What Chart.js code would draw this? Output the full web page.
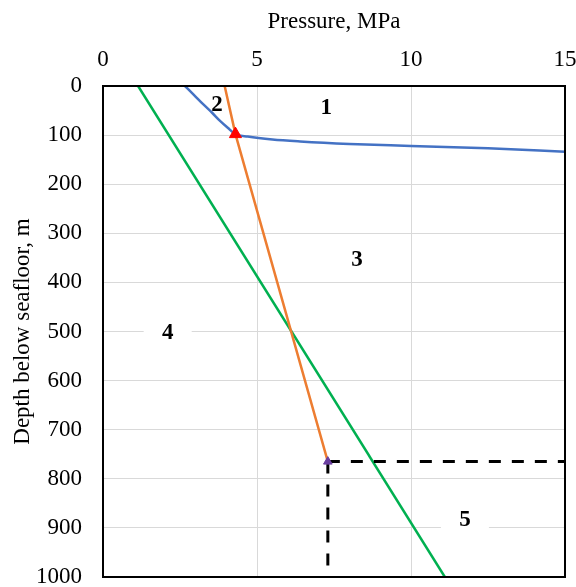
<!DOCTYPE html>
<html>
<head>
<meta charset="utf-8">
<script src="https://cdn.jsdelivr.net/npm/chart.js@4"></script>
<style>
    body { margin: 0; background: #fff; }
    canvas { display: block; }
</style>
</head>
<body>
<canvas id="pressureChart" width="576" height="587"></canvas>
<script>
    // 相平衡曲線（藍）
    const bluePressure = [2.66, 2.95, 3.25, 3.55, 3.8, 4.05, 4.3, 4.7, 5.5, 6.4, 8.0, 10.0, 12.5, 15.0];
    const blueDepth = [0, 18, 37, 55, 71, 85, 98, 103, 109, 113, 118, 122, 127, 134];
    // 靜水壓線（橘）
    const orangePressure = [3.95, 4.3, 7.3];
    const orangeDepth = [0, 98, 765];
    // 地層壓力線（綠）
    const greenPressure = [1.14, 11.1];
    const greenDepth = [0, 1000];
    // 虛線
    const dashHPressure = [7.3, 15];
    const dashHDepth = [765, 765];
    const dashVPressure = [7.3, 7.3];
    const dashVDepth = [765, 1000];
    // 標記點
    const redMark = [4.3, 98];
    const purpleMark = [7.3, 765];
    // 區域編號
    const zoneText = ['1', '2', '3', '4', '5'];
    const zonePressure = [7.25, 3.7, 8.25, 2.1, 11.75];
    const zoneDepth = [45, 39, 354, 503, 884];
    const zoneBox = [false, false, true, true, true];

    const serif = "'Liberation Serif', 'Times New Roman', serif";
    const toPoints = (xs, ys) => xs.map((x, i) => ({ x: x, y: ys[i] }));
    // 固定軸寬高，去掉標籤外溢的留白
    const fixScale = (size) => (scale) => {
        if (scale.isHorizontal()) scale.height = size; else scale.width = size;
        scale.paddingTop = 0;
        scale.paddingBottom = 0;
        scale.paddingLeft = 0;
        scale.paddingRight = 0;
    };

    // 資料集（前面的畫在上層）
    const lineData = {
        datasets: [
            {
                data: [{ x: redMark[0], y: redMark[1] }],
                pointStyle: 'triangle',
                pointRadius: 7,
                backgroundColor: '#FF0000',
                borderColor: '#FF0000'
            },
            {
                data: [{ x: purpleMark[0], y: purpleMark[1] }],
                pointStyle: 'triangle',
                pointRadius: 5,
                backgroundColor: '#6A3FA0',
                borderColor: '#6A3FA0'
            },
            {
                data: toPoints(dashHPressure, dashHDepth),
                borderColor: '#000',
                borderWidth: 3,
                borderDash: [12, 11],
                showLine: true,
                pointRadius: 0
            },
            {
                data: toPoints(dashVPressure, dashVDepth),
                borderColor: '#000',
                borderWidth: 3,
                borderDash: [12, 11],
                showLine: true,
                pointRadius: 0
            },
            {
                data: toPoints(orangePressure, orangeDepth),
                borderColor: '#ED7D31',
                borderWidth: 2.5,
                showLine: true,
                pointRadius: 0
            },
            {
                data: toPoints(bluePressure, blueDepth),
                borderColor: '#4472C4',
                borderWidth: 2.5,
                showLine: true,
                cubicInterpolationMode: 'monotone',
                pointRadius: 0
            },
            {
                data: toPoints(greenPressure, greenDepth),
                borderColor: '#00B050',
                borderWidth: 2.5,
                showLine: true,
                pointRadius: 0
            }
        ]
    };

    // 區域編號與外框
    const zonePlugin = {
        id: 'zones',
        beforeDatasetsDraw(chart) {
            const ctx = chart.ctx;
            const sx = chart.scales.x, sy = chart.scales.y;
            ctx.save();
            ctx.font = 'bold 23px ' + serif;
            ctx.textAlign = 'center';
            ctx.textBaseline = 'middle';
            zoneText.forEach((t, i) => {
                const px = sx.getPixelForValue(zonePressure[i]);
                const py = sy.getPixelForValue(zoneDepth[i]);
                if (zoneBox[i]) {
                    ctx.fillStyle = '#fff';
                    ctx.fillRect(px - 24, py - 15, 48, 30);
                }
                ctx.fillStyle = '#000';
                ctx.fillText(t, px, py);
            });
            ctx.restore();
        },
        afterDraw(chart) {
            const a = chart.chartArea;
            const ctx = chart.ctx;
            ctx.save();
            ctx.strokeStyle = '#000';
            ctx.lineWidth = 2;
            ctx.strokeRect(a.left, a.top, a.right - a.left, a.bottom - a.top);
            ctx.restore();
        }
    };

    const lineOptions = {
        responsive: false,
        animation: false,
        layout: {
            padding: { left: 0, top: 0, right: 11, bottom: 10 }
        },
        plugins: {
            legend: { display: false },
            tooltip: { enabled: false }
        },
        scales: {
            x: {
                type: 'linear',
                position: 'top',
                min: 0,
                max: 15,
                afterFit: fixScale(86),
                title: {
                    display: true,
                    text: 'Pressure, MPa',
                    color: '#000',
                    padding: { top: 8, bottom: 0 },
                    font: { family: serif, size: 23 }
                },
                grid: {
                    color: '#d9d9d9',
                    drawTicks: false
                },
                border: { display: false },
                ticks: {
                    stepSize: 5,
                    color: '#000',
                    padding: 12,
                    font: { family: serif, size: 23 },
                    callback: (v) => String(v)
                }
            },
            y: {
                type: 'linear',
                reverse: true,
                min: 0,
                max: 1000,
                afterFit: fixScale(103),
                title: {
                    display: true,
                    text: 'Depth below seafloor, m',
                    color: '#000',
                    padding: { top: 9, bottom: 0 },
                    font: { family: serif, size: 23 }
                },
                grid: {
                    color: '#d9d9d9',
                    drawTicks: false
                },
                border: { display: false },
                ticks: {
                    stepSize: 100,
                    color: '#000',
                    padding: 21,
                    font: { family: serif, size: 23 },
                    callback: (v) => String(v)
                }
            }
        }
    };

    const pressureChart = new Chart(
        document.getElementById('pressureChart'),
        {
            type: 'scatter',
            data: lineData,
            options: lineOptions,
            plugins: [zonePlugin]
        }
    );
</script>
</body>
</html>
